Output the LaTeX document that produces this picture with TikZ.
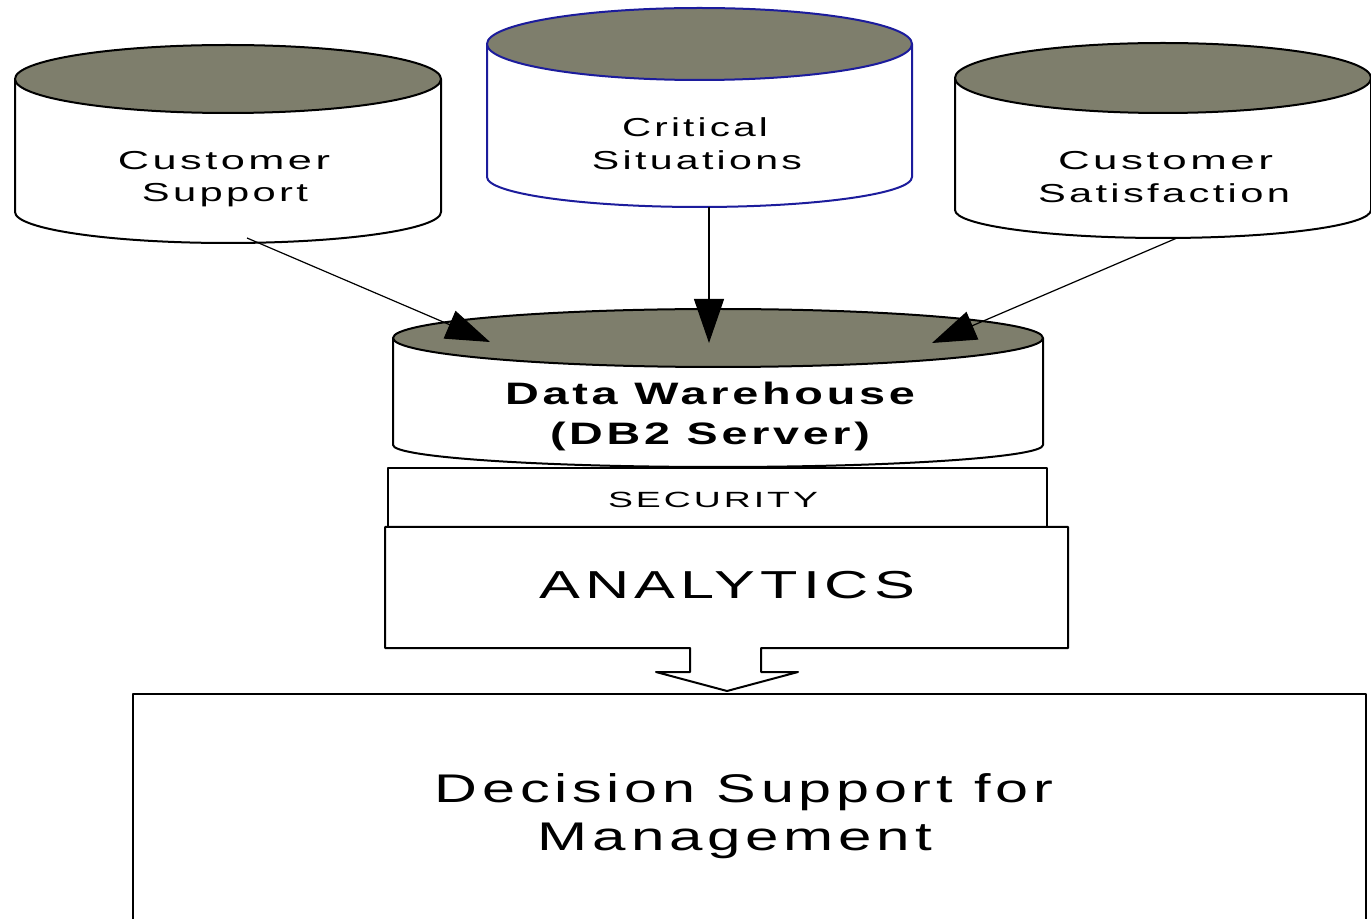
\documentclass[tikz,border=0pt]{standalone}
\usepackage{fontspec}
\setmainfont[LetterSpace=8]{Liberation Sans}
\usepackage{graphicx}
\usetikzlibrary{arrows.meta}

\definecolor{topfill}{RGB}{126,126,108}
\definecolor{navy}{RGB}{28,28,156}

% stretch a line of text to a given width (in pt), keeping its height
\newcommand\wide[2]{\resizebox{#1pt}{\height}{#2}}

% database drum: centre x, x radius, top y, top y radius, bottom y, bottom y radius, outline colour
\newcommand\drum[7]{%
  \fill[white] (#1-#2,#3) -- (#1-#2,#5)
    arc[start angle=180,end angle=0,x radius=#2,y radius=#6] -- (#1+#2,#3) -- cycle;
  \draw[outline,draw=#7] (#1-#2,#3) -- (#1-#2,#5)
    arc[start angle=180,end angle=0,x radius=#2,y radius=#6] -- (#1+#2,#3);
  \filldraw[outline,draw=#7,fill=topfill] (#1,#3) ellipse[x radius=#2,y radius=#4];
}

\begin{document}
\begin{tikzpicture}[x=0.5pt,y=-0.5pt,
  outline/.style={line width=1pt,line join=round},
  txt/.style={anchor=base,inner sep=0pt,outer sep=0pt},
  label/.style={txt,font=\fontsize{13}{15}\selectfont},
  feed/.style={line width=0.6pt,-{Triangle[length=22pt,width=15pt]}}]

\useasboundingbox (0,0) rectangle (1371,919);
\fill[white] (0,0) rectangle (1371,919);

% source databases
\drum{228}{213}{79}{34}{212}{31}{black}
\drum{699.5}{212.5}{44}{36}{177}{30}{navy}
\drum{1163}{208}{78}{35}{210}{28}{black}

\node[label] (cs1) at (224,170) {\wide{106}{Customer}};
\node[label] (cs2) at (225,202) {\wide{83}{Support}};
\node[label] (cr1) at (695,137) {\wide{73}{Critical}};
\node[label] (cr2) at (697,170) {\wide{105}{Situations}};
\node[label] (sa1) at (1165.5,170) {\wide{107.5}{Customer}};
\node[label] (sa2) at (1164,203) {\wide{126}{Satisfaction}};

% warehouse
\drum{718}{325}{338}{29}{445}{22}{black}
\node[txt,font=\fontsize{15.5}{18}\selectfont\bfseries] (dw1) at (710,405) {\wide{205}{Data Warehouse}};
\node[txt,font=\fontsize{15.5}{18}\selectfont\bfseries] (dw2) at (710,445) {\wide{160}{(DB2 Server)}};

% security layer
\filldraw[outline,fill=white] (388,468) rectangle (1047,527);
\node[txt,font=\fontsize{11}{13}\selectfont] (sec) at (713,508) {\wide{105}{SECURITY}};

% analytics block with its outlet arrow
\filldraw[outline,fill=white] (385,527) -- (1068,527) -- (1068,648) -- (761,648)
  -- (761,672) -- (798,672) -- (727,691) -- (656,672) -- (690,672) -- (690,648)
  -- (385,648) -- cycle;
\node[txt,font=\fontsize{19.5}{22}\selectfont] (ana) at (727.5,598) {\wide{187.5}{ANALYTICS}};

% decision support panel
\draw[outline] (133,925) -- (133,694) -- (1366,694) -- (1366,925);
\node[txt,font=\fontsize{20}{23}\selectfont] (ds1) at (744,802) {\wide{309}{Decision Support for}};
\node[txt,font=\fontsize{20}{23}\selectfont] (ds2) at (735,850) {\wide{197}{Management}};

% feeds into the warehouse
\coordinate (csOut) at (247,238);
\coordinate (crOut) at (709,207);
\coordinate (saOut) at (1177,238);
\coordinate (dwInA) at (490,342);
\coordinate (dwInB) at (709,343);
\coordinate (dwInC) at (932,343);
\draw[feed] (csOut) -- (dwInA);
\draw[feed] (crOut) -- (dwInB);
\draw[feed] (saOut) -- (dwInC);
\end{tikzpicture}
\end{document}
